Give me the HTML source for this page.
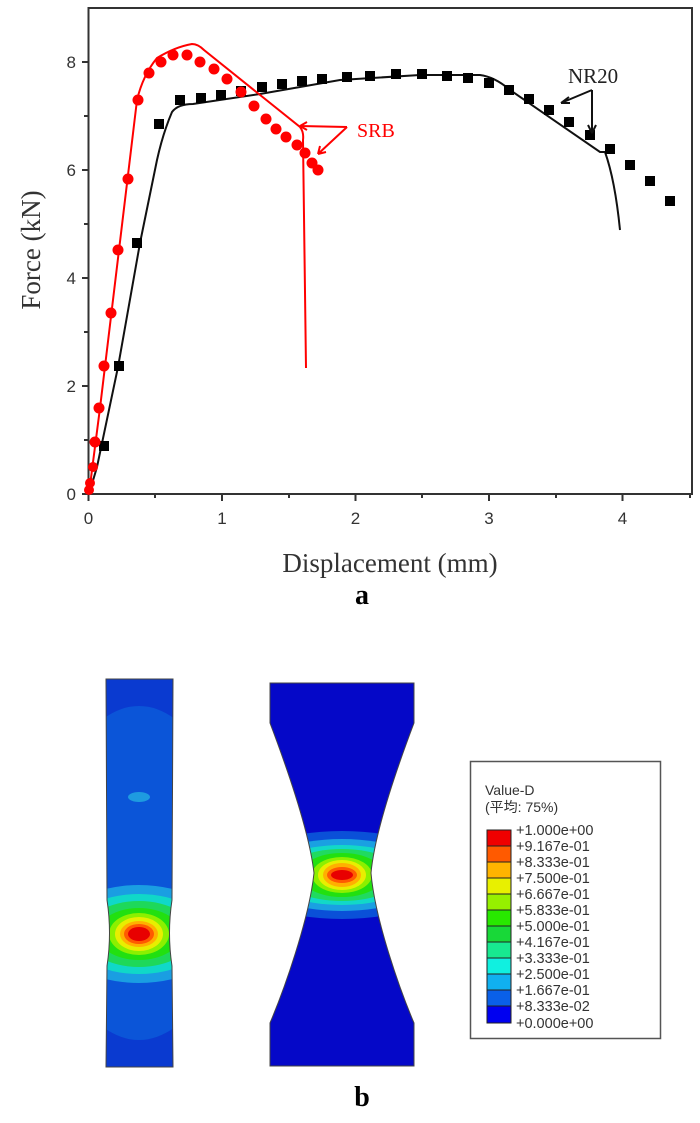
<!DOCTYPE html>
<html><head><meta charset="utf-8"><style>html,body{margin:0;padding:0;background:#fff}svg{display:block}</style></head>
<body>
<svg width="700" height="1123" viewBox="0 0 700 1123" xmlns="http://www.w3.org/2000/svg">
<defs>
<clipPath id="cl"><path d="M106,679 H173 L172,900 Q167,933 172,966 L173,1067 H106 L107,966 Q112,933 107,900 Z"/></clipPath>
<clipPath id="cr"><path d="M270,683 H414 V723 C400,760 375,830 371,873 C375,920 400,990 414,1023 V1066 H270 V1023 C284,990 309,920 314,873 C309,830 284,760 270,723 Z"/></clipPath>
</defs>
<rect x="88.5" y="8" width="603.5" height="486" fill="none" stroke="#333" stroke-width="2"/>
<g stroke="#333" stroke-width="2">
<line x1="88.5" y1="494" x2="82" y2="494"/><line x1="88.5" y1="386" x2="82" y2="386"/><line x1="88.5" y1="278" x2="82" y2="278"/><line x1="88.5" y1="170" x2="82" y2="170"/><line x1="88.5" y1="62" x2="82" y2="62"/>
<line x1="88.5" y1="440" x2="84" y2="440"/><line x1="88.5" y1="332" x2="84" y2="332"/><line x1="88.5" y1="224" x2="84" y2="224"/><line x1="88.5" y1="116" x2="84" y2="116"/>
<line x1="88.5" y1="494" x2="88.5" y2="501"/><line x1="222" y1="494" x2="222" y2="501"/><line x1="355.5" y1="494" x2="355.5" y2="501"/><line x1="489" y1="494" x2="489" y2="501"/><line x1="622.5" y1="494" x2="622.5" y2="501"/>
<line x1="155" y1="494" x2="155" y2="498"/><line x1="289" y1="494" x2="289" y2="498"/><line x1="422" y1="494" x2="422" y2="498"/><line x1="556" y1="494" x2="556" y2="498"/><line x1="690" y1="494" x2="690" y2="498"/>
</g>
<g font-family="Liberation Sans, sans-serif" font-size="17" fill="#333" text-anchor="end">
<text x="76" y="500">0</text><text x="76" y="392">2</text><text x="76" y="284">4</text><text x="76" y="176">6</text><text x="76" y="68">8</text>
</g>
<g font-family="Liberation Sans, sans-serif" font-size="17" fill="#333" text-anchor="middle">
<text x="88.5" y="524">0</text><text x="222" y="524">1</text><text x="355.5" y="524">2</text><text x="489" y="524">3</text><text x="622.5" y="524">4</text>
</g>
<text x="390" y="572" font-family="Liberation Serif, serif" font-size="27" fill="#333" text-anchor="middle">Displacement (mm)</text>
<text transform="translate(40,250) rotate(-90)" font-family="Liberation Serif, serif" font-size="27" fill="#333" text-anchor="middle">Force (kN)</text>
<text x="362" y="604" font-family="Liberation Serif, serif" font-size="28" font-weight="bold" text-anchor="middle">a</text>
<path d="M89,494 L97,467 L118,367 L140,243 L157,160 Q163,133 172,112 Q178,104 193,104 L260,94 L340,80 L420,75 L480,75 Q495,77 510,90 L600,152 L605,152 Q615,180 620,230" fill="none" stroke="#111" stroke-width="2"/>
<g fill="#000">
<rect x="99" y="441" width="10" height="10"/><rect x="114" y="361" width="10" height="10"/><rect x="132" y="238" width="10" height="10"/><rect x="154" y="119" width="10" height="10"/><rect x="175" y="95" width="10" height="10"/><rect x="196" y="93" width="10" height="10"/><rect x="216" y="90" width="10" height="10"/><rect x="236" y="86" width="10" height="10"/><rect x="257" y="82" width="10" height="10"/><rect x="277" y="79" width="10" height="10"/><rect x="297" y="76" width="10" height="10"/><rect x="317" y="74" width="10" height="10"/><rect x="342" y="72" width="10" height="10"/><rect x="365" y="71" width="10" height="10"/><rect x="391" y="69" width="10" height="10"/><rect x="417" y="69" width="10" height="10"/><rect x="442" y="71" width="10" height="10"/><rect x="463" y="73" width="10" height="10"/><rect x="484" y="78" width="10" height="10"/><rect x="504" y="85" width="10" height="10"/><rect x="524" y="94" width="10" height="10"/><rect x="544" y="105" width="10" height="10"/><rect x="564" y="117" width="10" height="10"/><rect x="585" y="130" width="10" height="10"/><rect x="605" y="144" width="10" height="10"/><rect x="625" y="160" width="10" height="10"/><rect x="645" y="176" width="10" height="10"/><rect x="665" y="196" width="10" height="10"/>
</g>
<path d="M89,494 L92,470 L100,408 L119,250 L137,100 Q143,75 157,58 Q175,47 192,44 Q198,44 204,50 L300,127 Q304,132 303,140 L306,368" fill="none" stroke="#f00" stroke-width="2"/>
<g fill="#f00">
<circle cx="89" cy="490" r="5"/><circle cx="90" cy="483" r="5"/><circle cx="93" cy="467" r="5"/><circle cx="95" cy="442" r="5.5"/><circle cx="99" cy="408" r="5.5"/><circle cx="104" cy="366" r="5.5"/><circle cx="111" cy="313" r="5.5"/><circle cx="118" cy="250" r="5.5"/><circle cx="128" cy="179" r="5.5"/><circle cx="138" cy="100" r="5.5"/><circle cx="149" cy="73" r="5.5"/><circle cx="161" cy="62" r="5.5"/><circle cx="173" cy="55" r="5.5"/><circle cx="187" cy="55" r="5.5"/><circle cx="200" cy="62" r="5.5"/><circle cx="214" cy="69" r="5.5"/><circle cx="227" cy="79" r="5.5"/><circle cx="241" cy="92" r="5.5"/><circle cx="254" cy="106" r="5.5"/><circle cx="266" cy="119" r="5.5"/><circle cx="276" cy="129" r="5.5"/><circle cx="286" cy="137" r="5.5"/><circle cx="297" cy="145" r="5.5"/><circle cx="305" cy="153" r="5.5"/><circle cx="312" cy="163" r="5.5"/><circle cx="318" cy="170" r="5.5"/>
</g>
<g stroke="#f00" stroke-width="2" fill="none"><path d="M347,127 L300,126 M300,126 l7,-4 M300,126 l7,4 M347,127 L318,154 M318,154 l2,-8 M318,154 l8,-2"/></g>
<text x="357" y="137" font-family="Liberation Serif, serif" font-size="20" fill="#f00">SRB</text>
<g stroke="#111" stroke-width="2" fill="none"><path d="M592,90 L561,103 M561,103 l8,-6 M561,103 l9,0 M592,90 L592,133 M592,133 l-4,-8 M592,133 l4,-8"/></g>
<text x="568" y="83" font-family="Liberation Serif, serif" font-size="21" fill="#222">NR20</text>
<g clip-path="url(#cl)">
<rect x="100" y="675" width="80" height="400" fill="#0a3ad0"/>
<ellipse cx="139" cy="873" rx="93" ry="167" fill="#0b55d8"/>
<ellipse cx="139" cy="797" rx="11" ry="5" fill="#1e9be0"/>
<ellipse cx="139" cy="934" rx="85" ry="49" fill="#1a9ee2"/>
<ellipse cx="139" cy="934" rx="70" ry="40" fill="#10d8c8"/>
<ellipse cx="139" cy="934" rx="55" ry="33" fill="#1ed85a"/>
<ellipse cx="139" cy="934" rx="42" ry="26" fill="#22e010"/>
<ellipse cx="139" cy="934" rx="30" ry="21" fill="#8cf000"/>
<ellipse cx="139" cy="934" rx="24" ry="17" fill="#e8ee00"/>
<ellipse cx="139" cy="934" rx="19" ry="13" fill="#ffb000"/>
<ellipse cx="139" cy="934" rx="15" ry="10" fill="#ff5a00"/>
<ellipse cx="139" cy="934" rx="11" ry="7" fill="#e80000"/>
</g>
<path d="M106,679 H173 L172,900 Q167,933 172,966 L173,1067 H106 L107,966 Q112,933 107,900 Z" fill="none" stroke="#444" stroke-width="1"/>
<g clip-path="url(#cr)">
<rect x="265" y="680" width="155" height="390" fill="#0508c8"/>
<ellipse cx="342" cy="875" rx="110" ry="44" fill="#0a50d8"/>
<ellipse cx="342" cy="875" rx="90" ry="36" fill="#1aa0e2"/>
<ellipse cx="342" cy="875" rx="75" ry="30" fill="#12d8c8"/>
<ellipse cx="342" cy="875" rx="60" ry="26" fill="#20da60"/>
<ellipse cx="342" cy="875" rx="42" ry="22" fill="#22e010"/>
<ellipse cx="342" cy="875" rx="30" ry="18" fill="#8cf000"/>
<ellipse cx="342" cy="875" rx="24" ry="15" fill="#e8ee00"/>
<ellipse cx="342" cy="875" rx="19" ry="12" fill="#ffb000"/>
<ellipse cx="342" cy="875" rx="15" ry="8" fill="#ff5a00"/>
<ellipse cx="342" cy="875" rx="11" ry="5" fill="#e80000"/>
</g>
<path d="M270,683 H414 V723 C400,760 375,830 371,873 C375,920 400,990 414,1023 V1066 H270 V1023 C284,990 309,920 314,873 C309,830 284,760 270,723 Z" fill="none" stroke="#444" stroke-width="1"/>
<rect x="470.5" y="761.5" width="190" height="277" fill="#fff" stroke="#555" stroke-width="1.5"/>
<g font-family="Liberation Sans, 'Noto Sans CJK JP', sans-serif" font-size="14" fill="#333">
<text x="485" y="795">Value-D</text>
<text x="485" y="812">(平均: 75%)</text>
</g>
<g stroke="#222" stroke-width="1">
<rect x="487" y="830" width="24" height="16" fill="#f00000"/>
<rect x="487" y="846" width="24" height="16" fill="#ff5a00"/>
<rect x="487" y="862" width="24" height="16" fill="#ffb400"/>
<rect x="487" y="878" width="24" height="16" fill="#e8f000"/>
<rect x="487" y="894" width="24" height="16" fill="#96f000"/>
<rect x="487" y="910" width="24" height="16" fill="#28e800"/>
<rect x="487" y="926" width="24" height="16" fill="#18d838"/>
<rect x="487" y="942" width="24" height="16" fill="#18e890"/>
<rect x="487" y="958" width="24" height="16" fill="#10f0e0"/>
<rect x="487" y="974" width="24" height="16" fill="#10b0f0"/>
<rect x="487" y="990" width="24" height="16" fill="#0a60e8"/>
<rect x="487" y="1006" width="24" height="17" fill="#0000f0"/>
</g>
<g font-family="Liberation Sans, sans-serif" font-size="14.5" fill="#333">
<text x="516" y="835">+1.000e+00</text><text x="516" y="851">+9.167e-01</text><text x="516" y="867">+8.333e-01</text><text x="516" y="883">+7.500e-01</text><text x="516" y="899">+6.667e-01</text><text x="516" y="915">+5.833e-01</text><text x="516" y="931">+5.000e-01</text><text x="516" y="947">+4.167e-01</text><text x="516" y="963">+3.333e-01</text><text x="516" y="979">+2.500e-01</text><text x="516" y="995">+1.667e-01</text><text x="516" y="1011">+8.333e-02</text><text x="516" y="1028">+0.000e+00</text>
</g>
<text x="362" y="1106" font-family="Liberation Serif, serif" font-size="28" font-weight="bold" text-anchor="middle">b</text>
</svg>
</body></html>
